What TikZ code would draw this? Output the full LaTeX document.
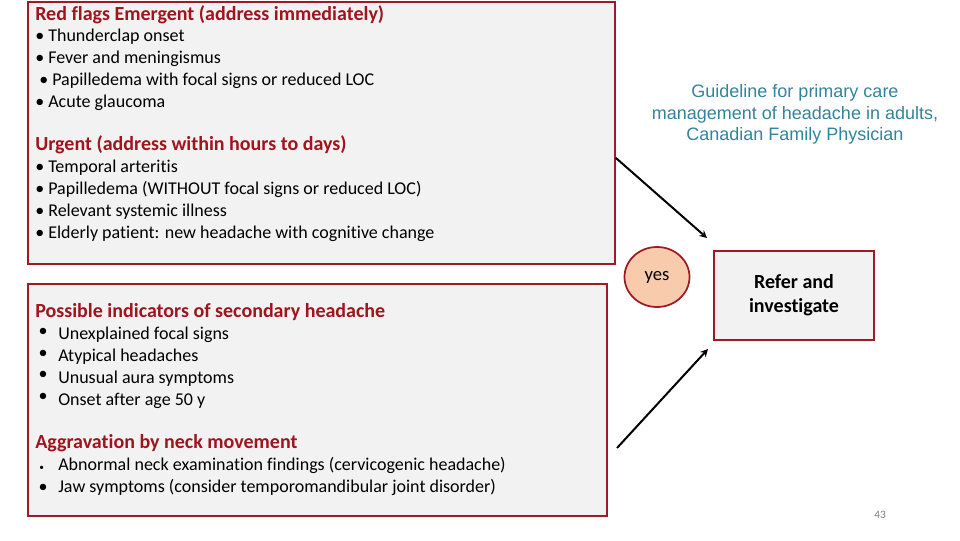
\documentclass[tikz,border=0pt]{standalone}
\usepackage{fontspec}
\setmainfont{Carlito}[Ligatures=NoCommon]
\newfontfamily\guidefont{Liberation Sans}
\usetikzlibrary{positioning,shapes.geometric}

\definecolor{flagred}{HTML}{A0141E}
\definecolor{boxred}{HTML}{9E1B23}
\definecolor{boxgray}{HTML}{F2F2F2}
\definecolor{yespeach}{HTML}{F8CBAD}
\definecolor{guideteal}{HTML}{31849B}
\definecolor{pagegray}{HTML}{7F7F7F}

\newcommand{\flagtitle}[1]{\textcolor{flagred}{\fontsize{15}{16.35}\selectfont\textbf{#1}}}
\newcommand{\hangbul}{\makebox[17.25pt][l]{\hspace{2.5pt}\raisebox{2.5pt}{\textbullet}}}
\newcommand{\smallbul}{\makebox[17.25pt][l]{\hspace{3pt}{\scriptsize\textbullet}}}
\newcommand{\plainbul}{\makebox[17.25pt][l]{\hspace{2.5pt}\textbullet}}

\begin{document}
\begin{tikzpicture}[x=0.75pt, y=-0.75pt]
    % Define the styles for each node
    \tikzstyle{panel} = [rectangle, draw=boxred, fill=boxgray, line width=1.4pt, inner sep=0pt]
    \tikzstyle{listtext} = [align=left, inner sep=0pt, anchor=north west, font=\fontsize{13.5}{16.35}\selectfont]
    \tikzstyle{answer} = [ellipse, draw=boxred, fill=yespeach, line width=1.3pt, minimum width=48.75pt, minimum height=45pt, inner sep=0pt]
    \tikzstyle{action} = [rectangle, draw=boxred, fill=boxgray, line width=1.4pt, minimum width=120pt, minimum height=66.75pt, align=center, font=\fontsize{15}{18}\selectfont\bfseries]
    \tikzstyle{connector} = [->, >=stealth, line width=1.5pt]

    \useasboundingbox (0,0) rectangle (960,540);

    % Create the two panels of warning signs
    \node [panel, anchor=north west, minimum width=440.25pt, minimum height=196.5pt] (flags) at (27,1) {};
    \node [panel, anchor=north west, minimum width=434.25pt, minimum height=174pt] (indicators) at (27,283) {};

    \node [listtext] (flaglist) at (35,5) {
        \flagtitle{Red flags Emergent (address immediately)}\\
        \textbullet\ Thunderclap onset\\
        \textbullet\ Fever and meningismus\\
        \hspace{3pt}\textbullet\ Papilledema with focal signs or reduced LOC\\
        \textbullet\ Acute glaucoma\\[16.35pt]
        \flagtitle{Urgent (address within hours to days)}\\
        \textbullet\ Temporal arteritis\\
        \textbullet\ Papilledema (WITHOUT focal signs or reduced LOC)\\
        \textbullet\ Relevant systemic illness\\
        \textbullet\ Elderly patient: new headache with cognitive change
    };
    \node [listtext] (indicatorlist) at (35,303.5) {
        \flagtitle{Possible indicators of secondary headache}\\
        \hangbul Unexplained focal signs\\
        \hangbul Atypical headaches\\
        \hangbul Unusual aura symptoms\\
        \hangbul Onset after age 50 y\\[16.35pt]
        \flagtitle{Aggravation by neck movement}\\
        \smallbul Abnormal neck examination findings (cervicogenic headache)\\
        \plainbul Jaw symptoms (consider temporomandibular joint disorder)
    };

    % Create the answer and the action
    \node [answer] (yes) at (657,277) {\fontsize{14}{16}\selectfont\raisebox{1.5pt}{yes}};
    \node [action] (refer) at (794,295.5) {\raisebox{-1pt}{Refer and}\\\raisebox{-1pt}{investigate}};

    % Source of the guideline
    \node [align=center, text=guideteal, font=\guidefont\fontsize{13.5}{16.1}\selectfont] (source) at (795,114.5) {
        Guideline for primary care\\
        management of headache in adults,\\
        Canadian Family Physician
    };
    \node [text=pagegray, font=\fontsize{8.5}{10}\selectfont] (pagenum) at (880,515) {43};

    % Draw the arrows towards the action
    \coordinate (tip1) at (707,238);
    \coordinate (tail2) at (617,448);
    \coordinate (tip2) at (708,349);
    \draw [connector] ([yshift=-18.75pt]flags.east) -- (tip1);
    \draw [connector] (tail2) -- (tip2);
\end{tikzpicture}
\end{document}
